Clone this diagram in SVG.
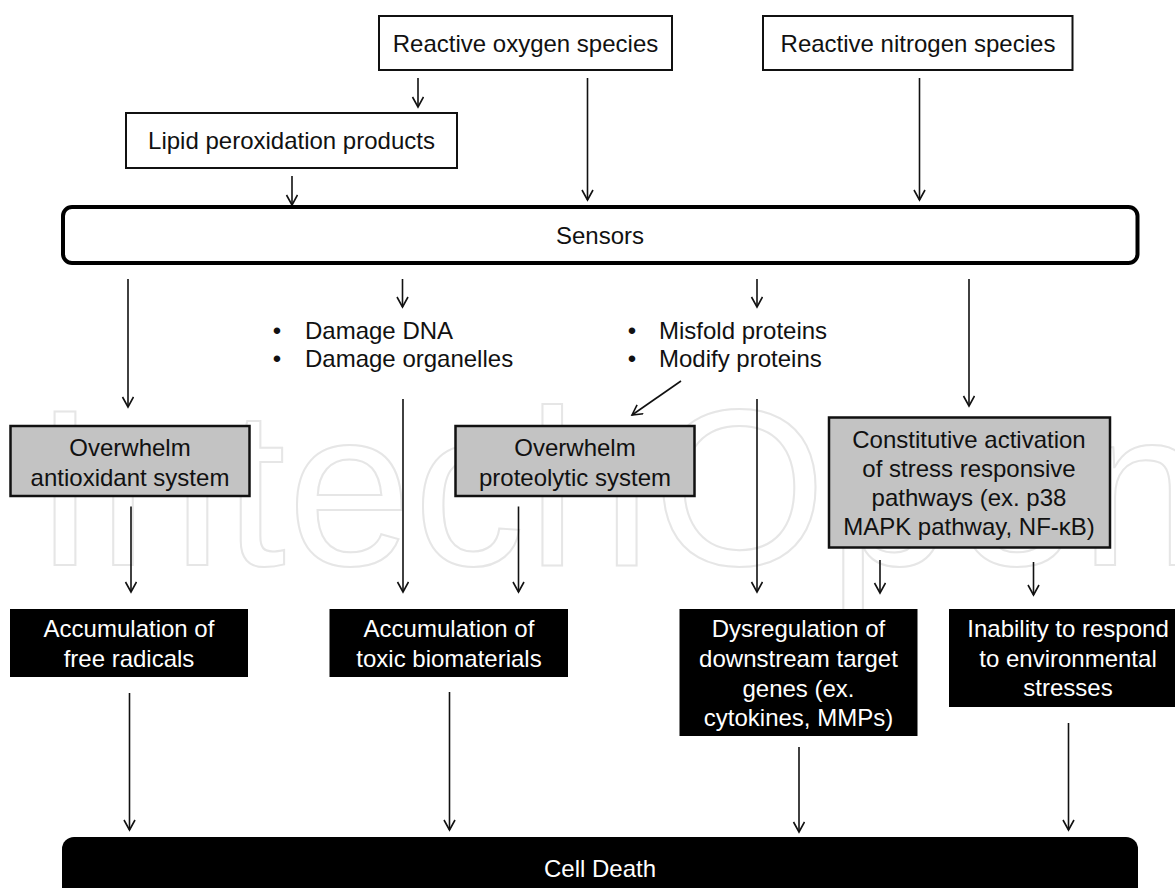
<svg xmlns="http://www.w3.org/2000/svg" width="1175" height="888" viewBox="0 0 1175 888">
<style>
  text { font-family: "Liberation Sans", Arial, sans-serif; font-size: 24px; fill: #111; }
  .c { text-anchor: middle; }
  .w { fill: #fff; }
  .box { fill: #fff; stroke: #111; stroke-width: 2; }
  .gray { fill: #c3c3c3; stroke: #111; stroke-width: 2.5; }
  .blk { fill: #000; stroke: none; }
  .sensor { fill: #fff; stroke: #000; stroke-width: 4; }
  .wm { font-size: 223px; fill: none; stroke: #e6e6e6; stroke-width: 2; }
  #connectors line { stroke: #111; stroke-width: 1.6; marker-end: url(#arr); }
</style>
<defs>
  <marker id="arr" markerUnits="userSpaceOnUse" markerWidth="14" markerHeight="14" refX="11" refY="6" orient="auto">
    <path d="M1,0.5 L11,6 L1,11.5" fill="none" stroke="#111" stroke-width="1.6"/>
  </marker>
</defs>
<rect width="1175" height="888" fill="#fff"/>
<text class="wm" x="34" y="565" textLength="1170" lengthAdjust="spacing">IntechOpen</text>

<g id="connectors">
  <line x1="418" y1="78" x2="418" y2="107"/>
  <line x1="587.5" y1="78" x2="587.5" y2="200"/>
  <line x1="919.5" y1="78" x2="919.5" y2="200"/>
  <line x1="292" y1="176" x2="292" y2="205"/>
  <line x1="128" y1="279" x2="128" y2="407"/>
  <line x1="402.5" y1="279" x2="402.5" y2="307"/>
  <line x1="757" y1="279" x2="757" y2="307"/>
  <line x1="969" y1="279" x2="969" y2="406"/>
  <line x1="403" y1="399" x2="403" y2="592"/>
  <line x1="757" y1="399" x2="757" y2="592"/>
  <line x1="681" y1="381" x2="632" y2="415"/>
  <line x1="131" y1="506.5" x2="131" y2="592"/>
  <line x1="518.5" y1="506.5" x2="518.5" y2="592"/>
  <line x1="880" y1="560" x2="880" y2="593"/>
  <line x1="1033.5" y1="562" x2="1033.5" y2="595"/>
  <line x1="129.5" y1="693" x2="129.5" y2="830"/>
  <line x1="449.5" y1="692" x2="449.5" y2="830"/>
  <line x1="799" y1="747" x2="799" y2="832"/>
  <line x1="1068.5" y1="723" x2="1068.5" y2="830"/>
</g>

<g id="ros">
  <rect class="box" x="379" y="16" width="293" height="54"/>
  <text class="c" x="525.5" y="51.5">Reactive oxygen species</text>
</g>
<g id="rns">
  <rect class="box" x="763" y="16" width="309.5" height="54"/>
  <text class="c" x="918" y="51.5">Reactive nitrogen species</text>
</g>
<g id="lipid">
  <rect class="box" x="126" y="113" width="331" height="55"/>
  <text class="c" x="291.5" y="148.5">Lipid peroxidation products</text>
</g>
<g id="sensors">
  <rect class="sensor" x="63" y="207" width="1074.5" height="56" rx="9"/>
  <text class="c" x="600" y="243.5">Sensors</text>
</g>
<g id="damage">
  <text class="c" x="277" y="338.5">•</text>
  <text x="305" y="338.5">Damage DNA</text>
  <text class="c" x="277" y="366.5">•</text>
  <text x="305" y="366.5">Damage organelles</text>
</g>
<g id="proteins">
  <text class="c" x="632" y="338.5">•</text>
  <text x="659" y="338.5">Misfold proteins</text>
  <text class="c" x="632" y="366.5">•</text>
  <text x="659" y="366.5">Modify proteins</text>
</g>
<g id="antioxidant">
  <rect class="gray" x="10.5" y="426" width="239" height="70"/>
  <text class="c" x="130" y="455.5">Overwhelm</text>
  <text class="c" x="130" y="485.5">antioxidant system</text>
</g>
<g id="proteolytic">
  <rect class="gray" x="455.5" y="426" width="239" height="70"/>
  <text class="c" x="575" y="455.5">Overwhelm</text>
  <text class="c" x="575" y="485.5">proteolytic system</text>
</g>
<g id="constitutive">
  <rect class="gray" x="829" y="417.5" width="281" height="130"/>
  <text class="c" x="969" y="448">Constitutive activation</text>
  <text class="c" x="969" y="477">of stress responsive</text>
  <text class="c" x="969" y="506">pathways (ex. p38</text>
  <text class="c" x="969" y="535">MAPK pathway, NF-κB)</text>
</g>
<g id="free-radicals">
  <rect class="blk" x="10" y="609" width="238" height="68"/>
  <text class="c w" x="129" y="636.5">Accumulation of</text>
  <text class="c w" x="129" y="666.5">free radicals</text>
</g>
<g id="toxic">
  <rect class="blk" x="329.5" y="609" width="238.5" height="68"/>
  <text class="c w" x="449" y="636.5">Accumulation of</text>
  <text class="c w" x="449" y="666.5">toxic biomaterials</text>
</g>
<g id="dysregulation">
  <rect class="blk" x="679.5" y="609" width="238" height="127"/>
  <text class="c w" x="798.5" y="637">Dysregulation of</text>
  <text class="c w" x="798.5" y="667">downstream target</text>
  <text class="c w" x="798.5" y="696.5">genes (ex.</text>
  <text class="c w" x="798.5" y="725.5">cytokines, MMPs)</text>
</g>
<g id="inability">
  <rect class="blk" x="949" y="609" width="240" height="98"/>
  <text class="c w" x="1068" y="636.5">Inability to respond</text>
  <text class="c w" x="1068" y="666.5">to environmental</text>
  <text class="c w" x="1068" y="695.5">stresses</text>
</g>
<g id="cell-death">
  <rect class="blk" x="62" y="837" width="1076" height="70" rx="12"/>
  <text class="c w" x="600" y="876.5">Cell Death</text>
</g>
</svg>
